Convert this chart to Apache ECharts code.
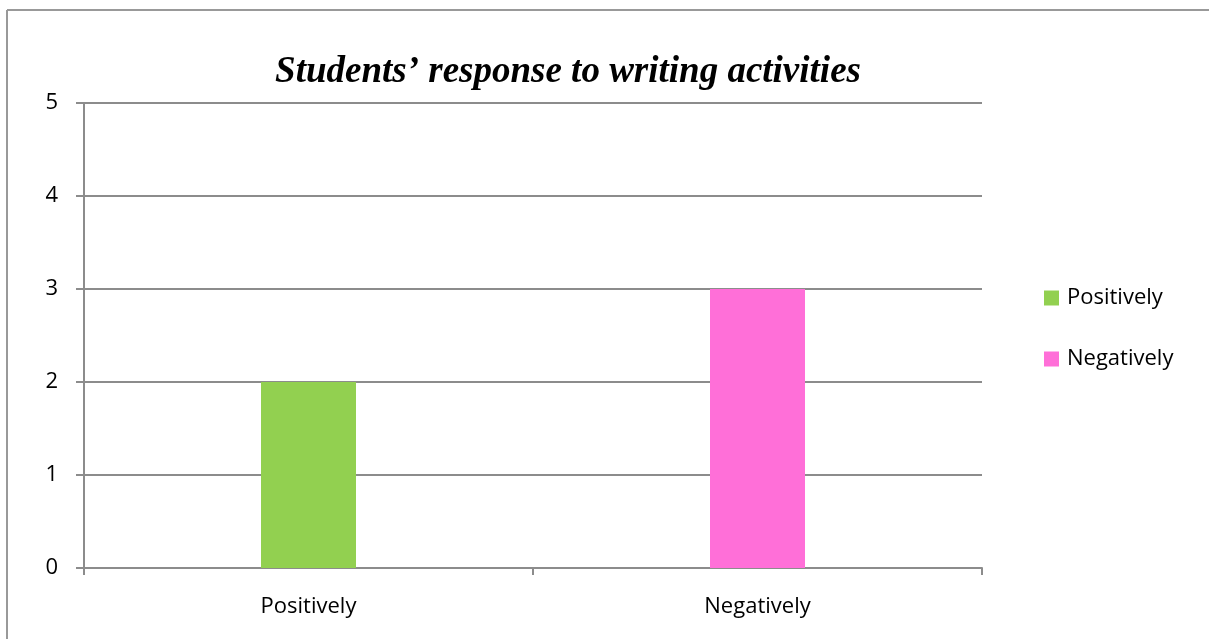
<!DOCTYPE html>
<html>
<head>
<meta charset="utf-8">
<script src="https://cdn.jsdelivr.net/npm/echarts@6/dist/echarts.min.js"></script>
<style>
html, body { margin: 0; padding: 0; background: #fff; }
#main { width: 1209px; height: 639px; }
</style>
</head>
<body>
<div id="main"></div>
<script>
// categories on the x axis
var categories = ['Positively', 'Negatively'];
// one series per response, each only fills its own category
var positiveValues = [2, '-'];
var negativeValues = ['-', 3];
var yTicks = [0, 1, 2, 3, 4, 5];

var myChart = echarts.init(document.getElementById('main'));
var labelFont = '"Open Sans", "Noto Sans", sans-serif';
var option = {
	backgroundColor: '#fff',
	title: {
		text: 'Students\u2019 response to writing activities',
		left: 563,
		textAlign: 'center',
		top: 49,
		textStyle: {
			fontFamily: '"Liberation Serif", "DejaVu Serif", serif',
			fontStyle: 'italic',
			fontWeight: 'bold',
			fontSize: 37,
			color: '#000'
		}
	},
	legend: {
		orient: 'vertical',
		left: 1039,
		top: 282,
		itemWidth: 15,
		itemHeight: 15,
		itemGap: 39,
		icon: 'rect',
		data: categories,
		textStyle: { fontFamily: labelFont, fontSize: 22, color: '#000', padding: [0, 0, 0, 3] }
	},
	grid: { left: 84, right: 227, top: 103, bottom: 71 },
	xAxis: {
		type: 'category',
		data: categories,
		axisLine: { lineStyle: { color: '#8c8c8c', width: 2 } },
		axisTick: { show: true, length: 7, lineStyle: { color: '#8c8c8c', width: 2 } },
		axisLabel: { margin: 28, fontFamily: labelFont, fontSize: 22, color: '#000' }
	},
	yAxis: {
		type: 'value',
		min: yTicks[0],
		max: yTicks[yTicks.length - 1],
		interval: 1,
		axisLine: { show: true, lineStyle: { color: '#8c8c8c', width: 2 } },
		axisTick: { show: true, length: 8, lineStyle: { color: '#8c8c8c', width: 2 } },
		axisLabel: { margin: 26, fontFamily: labelFont, fontSize: 22, color: '#000' },
		splitLine: { lineStyle: { color: '#8c8c8c', width: 2 } }
	},
	series: [
		{ name: 'Positively', type: 'bar', stack: 'one', barWidth: 95, data: positiveValues, itemStyle: { color: '#92d050' } },
		{ name: 'Negatively', type: 'bar', stack: 'one', barWidth: 95, data: negativeValues, itemStyle: { color: '#ff6fd8' } }
	],
	graphic: [
		{ type: 'line', shape: { x1: 7, y1: 10, x2: 1209, y2: 10 }, style: { stroke: '#999', lineWidth: 2 } },
		{ type: 'line', shape: { x1: 7, y1: 10, x2: 7, y2: 639 }, style: { stroke: '#999', lineWidth: 2 } }
	]
};
myChart.setOption(option);
</script>
</body>
</html>
